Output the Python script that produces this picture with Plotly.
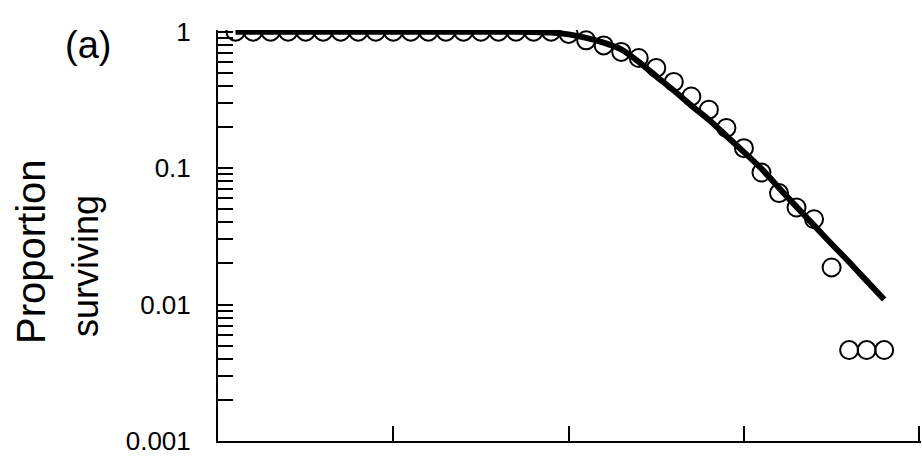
import plotly.graph_objects as go

# Observed proportion surviving (open circles)
obs_x = list(range(1, 39))
obs_y = [1.0]*19 + [0.962, 0.863, 0.793, 0.710, 0.641, 0.542, 0.428, 0.335, 0.268,
                    0.197, 0.140, 0.0928, 0.0656, 0.0514, 0.0422, 0.0187,
                    0.00464, 0.00464, 0.00464]

# Fitted curve (thick line)
fit_x = [1, 16, 18, 19, 20, 21, 22, 23, 24, 25, 26, 27, 28, 29, 30, 31, 32, 33, 34, 35, 36, 37, 38]
fit_y = [1.0, 1.0, 0.995, 0.985, 0.955, 0.9, 0.83, 0.74, 0.60, 0.47, 0.37, 0.287, 0.226,
         0.172, 0.131, 0.099, 0.0715, 0.052, 0.038, 0.0278, 0.0205, 0.0149, 0.0109]

y_tickvals = [0.001, 0.01, 0.1, 1]
y_ticktext = ["0.001", "0.01", "0.1", "1"]
x_tickvals = [0, 10, 20, 30, 40]

fig = go.Figure()
fig.add_trace(go.Scatter(x=fit_x, y=fit_y, mode="lines",
                         line=dict(color="black", width=6, shape="spline", smoothing=0.6),
                         hoverinfo="skip"))
fig.add_trace(go.Scatter(x=obs_x, y=obs_y, mode="markers",
                         marker=dict(symbol="circle-open", size=18, color="black",
                                     line=dict(width=2, color="black"))))

FW, FH = 922, 456
L, T, R, B = 218, 30, 1, 15
fig.update_layout(
    width=FW, height=FH,
    margin=dict(l=L, r=R, t=T, b=B, autoexpand=False),
    paper_bgcolor="white", plot_bgcolor="white",
    showlegend=False,
    font=dict(family="Liberation Sans, Arial, sans-serif", color="black"),
)
fig.update_xaxes(range=[0, 40.1], tickvals=x_tickvals, showticklabels=False,
                 ticks="inside", ticklen=15, tickwidth=2, tickcolor="black",
                 showline=True, linecolor="black", linewidth=2,
                 showgrid=False, zeroline=False)
fig.update_yaxes(type="log", range=[-3, 0.012], tickvals=y_tickvals, ticktext=y_ticktext,
                 ticks="inside", ticklen=15, tickwidth=2, tickcolor="black",
                 tickfont=dict(size=26), ticklabelstandoff=20, ticklabeloverflow="allow",
                 minor=dict(ticks="inside", ticklen=15, tickwidth=2, tickcolor="black",
                            dtick="D1", showgrid=False),
                 showline=True, linecolor="black", linewidth=2,
                 showgrid=False, zeroline=False)

W, H = FW - L - R, FH - T - B
def px(x): return (x - L) / W
def py(y): return (FH - B - y) / H

fig.add_annotation(text="(a)", x=px(88), y=py(45), xref="paper", yref="paper",
                   showarrow=False, font=dict(size=38), xanchor="center", yanchor="middle")
fig.add_annotation(text="Proportion", x=px(31), y=py(252), xref="paper", yref="paper",
                   showarrow=False, font=dict(size=40), textangle=-90,
                   xanchor="center", yanchor="middle")
fig.add_annotation(text="surviving", x=px(85), y=py(266), xref="paper", yref="paper",
                   showarrow=False, font=dict(size=36), textangle=-90,
                   xanchor="center", yanchor="middle")

# remove the browser's default 8px body margin so the figure fills the window exactly
fig.write_html("out.html",
               config={"displayModeBar": False},
               post_script="document.body.style.margin='0px';document.body.style.overflow='hidden';")
